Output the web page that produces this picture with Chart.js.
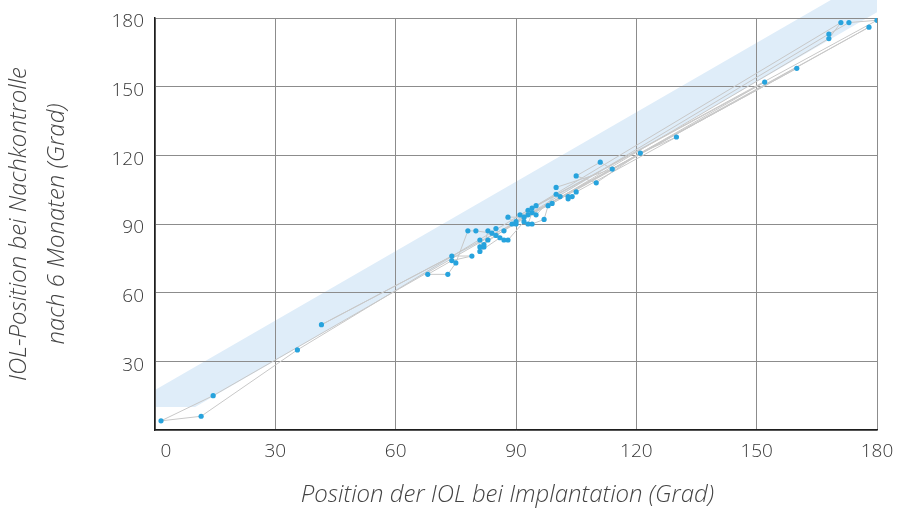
<!DOCTYPE html>
<html>
<head>
<meta charset="utf-8">
<script src="https://cdn.jsdelivr.net/npm/chart.js@4/dist/chart.umd.min.js"></script>
<style>
  html, body { margin: 0; padding: 0; background: #fff; }
  #wrap { width: 897px; height: 510px; }
</style>
</head>
<body>
<div id="wrap"><canvas id="chart" width="897" height="510"></canvas></div>
<script>
// IOL-Rotation: Position bei Implantation vs. Position nach 6 Monaten (Grad)

// ── Data ────────────────────────────────────────────────────────────────
const xTicks = [0, 30, 60, 90, 120, 150, 180];
const yTicks = [0, 30, 60, 90, 120, 150, 180];

// Patients in list order (the grey line just joins consecutive rows)
const posImplantation = [
  90, 88, 92, 14.5, 1.5, 11.5, 35.5, 93, 95, 180,
  173, 168, 89, 87, 94, 171, 168, 83, 82, 81,
  90, 178, 99, 41.5, 74, 79, 74, 68, 73, 75,
  78, 80, 84, 85, 86, 81, 81, 82, 83, 85,
  87, 88, 92, 93, 160, 94, 93, 94, 97, 98,
  152, 91, 95, 100, 101, 103, 103, 104, 105, 130,
  121, 110, 105, 111, 114, 100
];
const posNachkontrolle = [
  90, 93, 93, 15, 4, 6, 35, 96, 98, 179,
  178, 173, 90, 87, 97, 178, 171, 83, 81, 80,
  91, 176, 99, 46, 76, 76, 74, 68, 68, 73,
  87, 87, 86, 88, 84, 78, 83, 80, 87, 85,
  83, 83, 91, 94, 158, 95, 90, 90, 92, 98,
  152, 94, 94, 103, 102, 102, 101, 102, 104, 128,
  121, 108, 111, 117, 114, 106
];

// Shaded tolerance band (outline, clockwise)
const bandX = [0, 10, 180, 180, 0];
const bandY = [10, 10, 182.5, 199.5, 17.5];

// trailing spaces nudge the centred title a bit left, as in the original
const xTitle = 'Position der IOL bei Implantation (Grad)\u2007\u2009';
const yTitle = ['IOL-Position bei Nachkontrolle', 'nach 6 Monaten (Grad)'];

// ── Theme ───────────────────────────────────────────────────────────────
const THEME = {
  band:   '#dfedf9',
  point:  '#27a3dd',
  line:   '#c8c8c8',
  grid:   '#8c8c8c',
  axis:   '#1e1e1e',
  text:   '#383838',
  title:  '#444444',
  family: '"Open Sans", "DejaVu Sans", sans-serif'
};

// Band drawn under the grid, allowed to run past the top of the plot
const bandPlugin = {
  id: 'band',
  beforeDraw(chart) {
    const { ctx, scales: { x, y } } = chart;
    ctx.save();
    ctx.fillStyle = THEME.band;
    ctx.beginPath();
    bandX.forEach((v, i) => {
      const px = x.getPixelForValue(v);
      const py = y.getPixelForValue(bandY[i]);
      if (i === 0) ctx.moveTo(px, py); else ctx.lineTo(px, py);
    });
    ctx.closePath();
    ctx.fill();
    ctx.restore();
  }
};

const points = posImplantation.map((v, i) => ({ x: v, y: posNachkontrolle[i] }));

new Chart(document.getElementById('chart'), {
  type: 'scatter',
  data: {
    datasets: [{
      data: points,
      showLine: true,
      borderColor: THEME.line,
      borderWidth: 1,
      pointRadius: 2.6,
      pointBorderWidth: 0,
      pointBackgroundColor: THEME.point,
      tension: 0
    }]
  },
  plugins: [bandPlugin],
  options: {
    responsive: false,
    animation: false,
    layout: { padding: { top: 18, right: 20, left: 0, bottom: 0 } },
    plugins: {
      legend: { display: false },
      tooltip: { enabled: false }
    },
    scales: {
      x: {
        type: 'linear',
        min: 0, max: 180,
        afterBuildTicks: s => { s.ticks = xTicks.map(v => ({ value: v })); },
        afterFit: s => { s.height = 80; s.paddingLeft = 0; s.paddingRight = 0; },
        grid: { color: THEME.grid, lineWidth: 1, drawTicks: false },
        border: { color: THEME.axis, width: 1.5 },
        ticks: {
          padding: 10,
          color: THEME.text,
          font: { family: THEME.family, size: 19, weight: 300 },
          // the 0 label sits a little right of the axis in the original
          callback: v => (v === 0 ? '\u2007\u20070' : String(v))
        },
        title: {
          display: true,
          text: xTitle,
          color: THEME.title,
          padding: 0,
          font: { family: THEME.family, size: 24, style: 'italic', weight: 300, lineHeight: 1.2 }
        }
      },
      y: {
        type: 'linear',
        min: 0, max: 180,
        afterBuildTicks: s => { s.ticks = yTicks.map(v => ({ value: v })); },
        afterFit: s => { s.width = 155; s.paddingTop = 0; s.paddingBottom = 0; },
        grid: { color: THEME.grid, lineWidth: 1, drawTicks: false },
        border: { color: THEME.axis, width: 1.5 },
        ticks: {
          padding: 11,
          labelOffset: 4,
          color: THEME.text,
          font: { family: THEME.family, size: 19, weight: 300 },
          callback: v => (v === 0 ? '' : String(v))
        },
        title: {
          display: true,
          text: yTitle,
          color: THEME.title,
          padding: { top: 0, bottom: 0 },
          font: { family: THEME.family, size: 24, style: 'italic', weight: 300, lineHeight: 1.6 }
        }
      }
    }
  }
});
</script>
</body>
</html>
